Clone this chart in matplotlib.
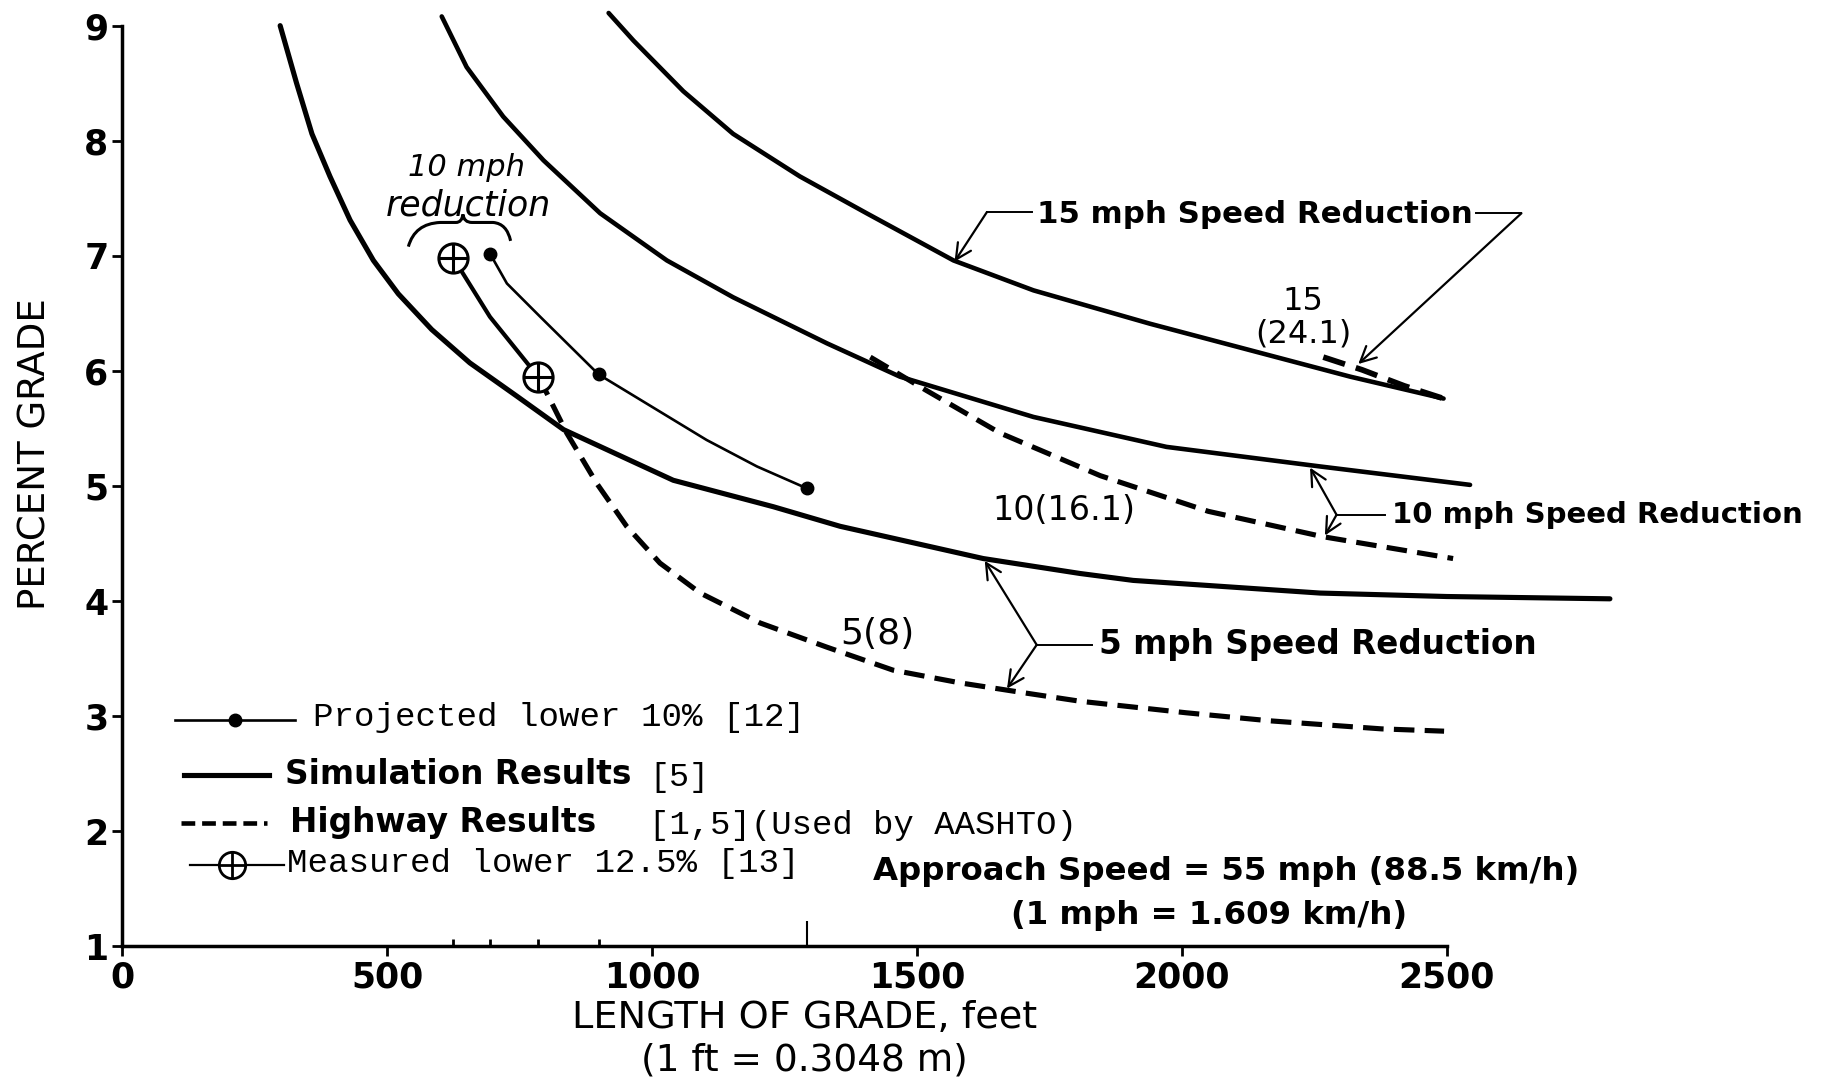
import matplotlib
matplotlib.use("Agg")
import matplotlib.pyplot as plt
from matplotlib.path import Path
from matplotlib.patches import PathPatch

# values (length of grade in ft, percent grade)
sim5_x = [298, 329, 358, 392, 430, 474, 521, 584, 656, 745, 833, 1040, 1229, 1355, 1625, 1808, 1908, 2261, 2500, 2808]
sim5_y = [9.00, 8.50, 8.06, 7.69, 7.31, 6.96, 6.67, 6.36, 6.07, 5.78, 5.49, 5.05, 4.82, 4.65, 4.37, 4.24, 4.18, 4.07, 4.04, 4.02]

sim10_x = [603, 650, 719, 795, 902, 1028, 1153, 1330, 1468, 1720, 1971, 2261, 2544]
sim10_y = [9.08, 8.64, 8.21, 7.83, 7.37, 6.96, 6.64, 6.24, 5.95, 5.60, 5.34, 5.17, 5.01]

sim15_x = [918, 965, 1059, 1153, 1279, 1405, 1569, 1720, 1940, 2129, 2318, 2494]
sim15_y = [9.11, 8.87, 8.43, 8.06, 7.69, 7.37, 6.96, 6.70, 6.41, 6.18, 5.95, 5.76]

hwy5_x = [785, 801, 839, 896, 952, 1015, 1091, 1204, 1330, 1455, 1581, 1707, 1808, 2008, 2166, 2377, 2495]
hwy5_y = [5.95, 5.81, 5.46, 5.02, 4.65, 4.33, 4.07, 3.81, 3.60, 3.40, 3.29, 3.20, 3.13, 3.03, 2.96, 2.89, 2.87]

hwy10_x = [1412, 1518, 1657, 1846, 2050, 2266, 2512]
hwy10_y = [6.12, 5.83, 5.46, 5.09, 4.78, 4.56, 4.37]

hwy15_x = [2267, 2340, 2420, 2494]
hwy15_y = [6.12, 6.01, 5.87, 5.76]

proj_x = [694, 726, 789, 899, 1103, 1198, 1292]
proj_y = [7.02, 6.76, 6.47, 5.97, 5.40, 5.17, 4.98]
proj_pts_x = [694, 899, 1292]
proj_pts_y = [7.02, 5.97, 4.98]

meas_x = [625, 694, 785]
meas_y = [6.98, 6.47, 5.95]
meas_pts_x = [625, 785]
meas_pts_y = [6.98, 5.95]

xticks = [0, 500, 1000, 1500, 2000, 2500]
yticks = [1, 2, 3, 4, 5, 6, 7, 8, 9]

SANS = "DejaVu Sans"
MONO = "Liberation Mono"
LW = 3.3
DASH = (4, 2)
ARROW = dict(arrowstyle="->", lw=1.6, mutation_scale=28, shrinkA=0, shrinkB=0, color="black")

fig = plt.figure(figsize=(18.25, 10.8), dpi=100)
ax = fig.add_axes([0.067, 0.1237, 0.933, 0.876])
ax.set_xlim(0, 3214)
ax.set_ylim(1, 9.22)

for s in ("top", "right"):
    ax.spines[s].set_visible(False)
ax.spines["left"].set_bounds(1, 9)
ax.spines["bottom"].set_bounds(0, 2500)
ax.spines["left"].set_linewidth(2.5)
ax.spines["bottom"].set_linewidth(2.5)
ax.set_xticks(xticks)
ax.set_yticks(yticks)
ax.tick_params(direction="out", length=7, width=2, pad=3)
for lab in ax.get_xticklabels() + ax.get_yticklabels():
    lab.set_fontsize(25)
    lab.set_fontweight("bold")
    lab.set_family(SANS)

# curves
ax.plot(sim5_x, sim5_y, color="black", lw=LW + 0.4, solid_capstyle="round", clip_on=False)
ax.plot(sim10_x, sim10_y, color="black", lw=LW, solid_capstyle="round", clip_on=False)
ax.plot(sim15_x, sim15_y, color="black", lw=LW, solid_capstyle="round", clip_on=False)
ax.plot(hwy5_x, hwy5_y, color="black", lw=LW + 0.4, dashes=DASH)
ax.plot(hwy10_x, hwy10_y, color="black", lw=LW + 0.4, dashes=DASH)
ax.plot(hwy15_x, hwy15_y, color="black", lw=LW + 0.8, dashes=DASH)

ax.plot(proj_x, proj_y, color="black", lw=1.9)
ax.plot(proj_pts_x, proj_pts_y, "o", color="black", ms=9)
ax.plot(meas_x, meas_y, color="black", lw=3)
ax.plot(meas_pts_x, meas_pts_y, "o", mfc="white", mec="black", mew=2.2, ms=21)
ax.plot(meas_pts_x, meas_pts_y, "+", color="black", mew=2.2, ms=21)

# little marks on the length axis at the measured/projected lengths
ax.vlines(meas_pts_x + proj_pts_x[:2], 1, 1.06, color="black", lw=2)
ax.vlines(proj_pts_x[2:], 1, 1.22, color="black", lw=1.5)


def leader(junction, text_x, tips, label, fs):
    jx, jy = junction
    ax.plot([jx, text_x - 12], [jy, jy], color="black", lw=1.4)
    for t in tips:
        ax.annotate("", xy=t, xytext=junction, arrowprops=ARROW)
    ax.text(text_x, jy, label, fontsize=fs, fontweight="bold", family=SANS,
            ha="left", va="center")


# 15 mph
ax.plot([1632, 1718], [7.38, 7.38], color="black", lw=1.4)
ax.annotate("", xy=(1571, 6.95), xytext=(1632, 7.38), arrowprops=ARROW)
ax.text(1726, 7.36, "15 mph Speed Reduction", fontsize=22.2, fontweight="bold",
        family=SANS, ha="left", va="center")
ax.plot([2556, 2641], [7.37, 7.37], color="black", lw=1.4)
ax.annotate("", xy=(2333, 6.06), xytext=(2641, 7.37), arrowprops=ARROW)
ax.text(2229, 6.46, "15\n(24.1)", fontsize=23, family=SANS, ha="center", va="center",
        linespacing=1.05)

# 10 mph
leader((2292, 4.75), 2396, [(2242, 5.16), (2270, 4.57)], "10 mph Speed Reduction", 21)
ax.text(1778, 4.79, "10(16.1)", fontsize=24, family=SANS, ha="center", va="center")

# 5 mph
leader((1726, 3.62), 1843, [(1628, 4.35), (1670, 3.24)], "5 mph Speed Reduction", 23.5)
ax.text(1426, 3.71, "5(8)", fontsize=26, family=SANS, ha="center", va="center")

# handwritten note with brace
ax.text(650, 7.77, "10 mph", fontsize=22, style="italic", family=SANS, ha="center", va="center")
ax.text(653, 7.44, "reduction", fontsize=25, style="italic", family=SANS, ha="center", va="center")
verts = [(540, 7.08), (552, 7.28), (600, 7.29), (630, 7.29),
         (641, 7.29), (643, 7.36), (645, 7.29), (660, 7.29),
         (700, 7.29), (726, 7.28), (733, 7.13)]
codes = [Path.MOVETO, Path.CURVE3, Path.CURVE3, Path.LINETO,
         Path.CURVE3, Path.CURVE3, Path.CURVE3, Path.CURVE3,
         Path.LINETO, Path.CURVE3, Path.CURVE3]
ax.add_patch(PathPatch(Path(verts, codes), fc="none", ec="black", lw=2.2))

# legend block
ax.plot([100, 326], [2.97, 2.97], color="black", lw=1.9)
ax.plot([213], [2.97], "o", color="black", ms=9)
ax.text(360, 2.99, "Projected lower 10% [12]", fontsize=24.6, family=MONO, va="center")

ax.plot([116, 277], [2.49, 2.49], color="black", lw=LW + 0.4)
ax.text(308, 2.49, "Simulation Results", fontsize=23.6, fontweight="bold", family=SANS, va="center")
ax.text(994, 2.47, "[5]", fontsize=24, family=MONO, va="center")

ax.plot([111, 273], [2.075, 2.075], color="black", lw=LW, dashes=(3, 1.5))
ax.text(317, 2.075, "Highway Results", fontsize=23.6, fontweight="bold", family=SANS, va="center")
ax.text(994, 2.05, "[1,5](Used by AASHTO)", fontsize=24.4, family=MONO, va="center")

ax.plot([127, 305], [1.71, 1.71], color="black", lw=1.6)
ax.plot([208], [1.71], "o", mfc="white", mec="black", mew=2, ms=19)
ax.plot([208], [1.71], "+", color="black", mew=2, ms=19)
ax.text(311, 1.72, "Measured lower 12.5% [13]", fontsize=24.6, family=MONO, va="center")

ax.text(2084, 1.65, "Approach Speed = 55 mph (88.5 km/h)", fontsize=23.3, fontweight="bold",
        family=SANS, ha="center", va="center")
ax.text(2051, 1.27, "(1 mph = 1.609 km/h)", fontsize=23.3, fontweight="bold",
        family=SANS, ha="center", va="center")

# axis titles
fig.text(0.019, 0.58, "PERCENT GRADE", rotation=90, fontsize=26.7, family=SANS,
         ha="center", va="center")
fig.text(0.441, 0.057, "LENGTH OF GRADE, feet", fontsize=27.5, family=SANS,
         ha="center", va="center")
fig.text(0.441, 0.018, "(1 ft = 0.3048 m)", fontsize=27, family=SANS,
         ha="center", va="center")

fig.savefig("out.png", dpi=100)
